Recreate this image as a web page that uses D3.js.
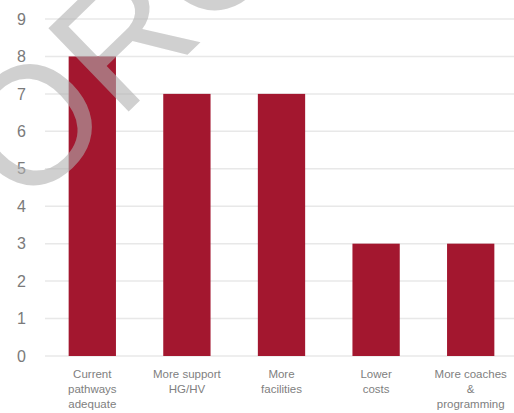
<!DOCTYPE html>
<html>
<head>
<meta charset="utf-8">
<script src="https://cdn.jsdelivr.net/npm/d3@7"></script>
<style>
  html, body { margin: 0; padding: 0; background: #fff; }
  svg { display: block; }
</style>
</head>
<body>
<div id="chart"></div>
<script>
// Survey responses: what would improve the pathway
const categories = [
  ["Current", "pathways", "adequate"],
  ["More support", "HG/HV"],
  ["More", "facilities"],
  ["Lower", "costs"],
  ["More coaches", "&", "programming"]
];
const values = [8, 7, 7, 3, 3];
const yTicks = [0, 1, 2, 3, 4, 5, 6, 7, 8, 9];
const watermark = "TORONTO";

const W = 514, H = 413;
const svg = d3.select("#chart").append("svg")
  .attr("width", W).attr("height", H);

const x = d3.scaleBand()
  .domain(d3.range(categories.length))
  .range([45, 518])
  .paddingInner(0.5)
  .paddingOuter(0.25);

const y = d3.scaleLinear().domain([0, 9]).range([356, 19]);

// horizontal gridlines
svg.append("g").selectAll("line")
  .data(yTicks)
  .join("line")
  .attr("x1", 45).attr("x2", W)
  .attr("y1", d => y(d)).attr("y2", d => y(d))
  .attr("stroke", "#e8e8e8")
  .attr("stroke-width", 1.5);

// y axis labels
const yAxis = d3.axisLeft(y).tickValues(yTicks).tickSize(0).tickPadding(0);
svg.append("g")
  .attr("transform", "translate(26,0)")
  .call(yAxis)
  .call(g => g.select(".domain").remove())
  .call(g => g.selectAll("text")
    .attr("fill", "#7a7a7a")
    .attr("font-family", "Liberation Sans, Arial, sans-serif")
    .attr("font-size", 16));

// bars
svg.append("g").selectAll("rect")
  .data(values)
  .join("rect")
  .attr("x", (d, i) => x(i))
  .attr("width", x.bandwidth())
  .attr("y", d => y(d))
  .attr("height", d => y(0) - y(d))
  .attr("fill", "#a3172f");

// category labels
const lab = svg.append("g").selectAll("text")
  .data(categories)
  .join("text")
  .attr("x", (d, i) => x(i) + x.bandwidth() / 2)
  .attr("y", 378)
  .attr("text-anchor", "middle")
  .attr("fill", "#808080")
  .attr("font-family", "Liberation Sans, Arial, sans-serif")
  .attr("font-size", 11.5);
lab.selectAll("tspan")
  .data(d => d)
  .join("tspan")
  .attr("x", function () { return d3.select(this.parentNode).attr("x"); })
  .attr("dy", (d, i) => i === 0 ? 0 : 15)
  .text(d => d);

// diagonal watermark
svg.append("text")
  .attr("transform", "translate(-47,281) rotate(-44)")
  .attr("font-family", "Liberation Sans, Arial, sans-serif")
  .attr("font-size", 168)
  .attr("fill", "#afafaf")
  .attr("fill-opacity", 0.59)
  .text(watermark);
</script>
</body>
</html>
